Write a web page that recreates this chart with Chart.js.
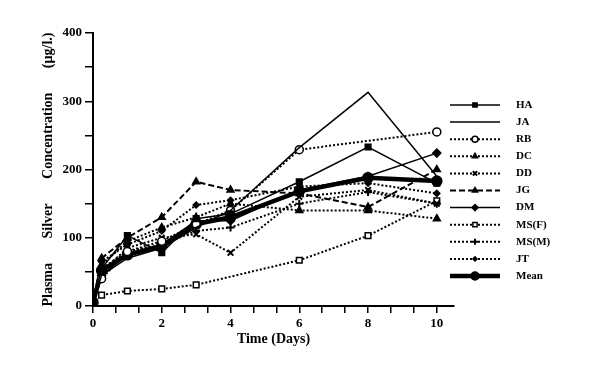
<!DOCTYPE html>
<html>
<head>
<meta charset="utf-8">
<script src="https://cdn.jsdelivr.net/npm/chart.js@4/dist/chart.umd.min.js"></script>
<style>
    html, body { margin: 0; padding: 0; background: #fff; }
    #wrap { width: 610px; height: 382px; }
</style>
</head>
<body>
<div id="wrap"><canvas id="chart" width="610" height="382"></canvas></div>
<script>
// Zeitpunkte (Tage) und Werte pro Patient
let days = [0, 0.25, 1, 2, 3, 4, 6, 8, 10];

let valuesHA = [5, 55, 103, 78, 128, 135, 182, 233, 180];
let valuesJA = [5, 45, 70, 85, 115, 140, 232, 313, 190];
let valuesRB = [5, 40, 80, 95, 120, 140, 229, null, 255];
let valuesDC = [5, 60, 95, 115, 130, 150, 140, 140, 128];
let valuesDD = [5, 50, 85, 100, 105, 78, 160, 170, 150];
let valuesJG = [5, 70, 100, 130, 182, 170, 165, 145, 200];
let valuesDM = [5, 45, 75, 90, 125, 125, 170, 190, 224];
let valuesMSF = [5, 16, 22, 25, 31, null, 67, 103, 154];
let valuesMSM = [5, 55, 80, 90, 110, 115, 150, 167, 150];
let valuesJT = [5, 65, 90, 110, 148, 155, 175, 180, 165];
let valuesMean = [5, 52, 75, 88, 120, 130, 168, 188, 183];

let xLabels = [0, 2, 4, 6, 8, 10];
let yLabels = [0, 100, 200, 300, 400];

let serif = "'Liberation Serif', 'DejaVu Serif', serif";

function points(values) {
    let list = [];
    for (let i = 0; i < days.length; i++) {
        list.push({x: days[i], y: values[i]});
    }
    return list;
}

function createDataset(label, values, style) {
    /*
        Baut ein Dataset mit Linienstil und Marker.
     */
    return {
        label: label,
        data: points(values),
        borderColor: '#000',
        borderWidth: style.width || 1.5,
        borderDash: style.dash || [],
        pointStyle: style.point || false,
        pointRadius: style.radius || 0,
        pointBackgroundColor: style.fill || '#000',
        pointBorderColor: '#000',
        pointBorderWidth: style.pointWidth || 1.5,
        spanGaps: true,
        tension: 0
    };
}

let dot = [2, 2];
let dash = [6, 3];

let datasets = [
    createDataset('HA', valuesHA, {point: 'rect', radius: 4}),
    createDataset('JA', valuesJA, {}),
    createDataset('RB', valuesRB, {dash: dot, point: 'circle', radius: 4, fill: '#fff', width: 2}),
    createDataset('DC', valuesDC, {dash: dot, point: 'triangle', radius: 4, width: 2}),
    createDataset('DD', valuesDD, {dash: dot, point: 'crossRot', radius: 4, width: 2, pointWidth: 2}),
    createDataset('JG', valuesJG, {dash: dash, point: 'triangle', radius: 4, width: 2}),
    createDataset('DM', valuesDM, {point: 'rectRot', radius: 4}),
    createDataset('MS(F)', valuesMSF, {dash: dot, point: 'rect', radius: 4, fill: '#fff', width: 2}),
    createDataset('MS(M)', valuesMSM, {dash: dot, point: 'cross', radius: 4, width: 2, pointWidth: 2}),
    createDataset('JT', valuesJT, {dash: dot, point: 'rectRot', radius: 3, width: 2}),
    createDataset('Mean', valuesMean, {point: 'circle', radius: 5, width: 4.5})
];

// Legende rechts neben dem Diagramm, Linie mit Marker in der Mitte
let sideLegend = {
    id: 'sideLegend',
    afterDraw: function (chart) {
        let ctx = chart.ctx;
        let x0 = 450, x1 = 500, textX = 516, y0 = 105, step = 17.1;
        ctx.save();
        for (let i = 0; i < chart.data.datasets.length; i++) {
            let ds = chart.data.datasets[i];
            let y = y0 + i * step;
            ctx.strokeStyle = '#000';
            ctx.lineWidth = ds.borderWidth;
            ctx.setLineDash(ds.borderDash);
            ctx.beginPath();
            ctx.moveTo(x0, y);
            ctx.lineTo(x1, y);
            ctx.stroke();
            ctx.setLineDash([]);
            if (ds.pointStyle) {
                ctx.fillStyle = ds.pointBackgroundColor;
                ctx.lineWidth = ds.pointBorderWidth;
                Chart.helpers.drawPoint(ctx, {
                    pointStyle: ds.pointStyle,
                    rotation: 0,
                    radius: ds.pointRadius - 1,
                    borderWidth: ds.pointBorderWidth
                }, (x0 + x1) / 2, y);
            }
            ctx.fillStyle = '#000';
            ctx.font = 'bold 11px ' + serif;
            ctx.textBaseline = 'middle';
            ctx.fillText(ds.label, textX, y);
        }
        ctx.restore();
    }
};

new Chart(document.getElementById('chart').getContext('2d'), {
    type: 'line',
    data: {datasets: datasets},
    plugins: [sideLegend],
    options: {
        responsive: false,
        animation: false,
        layout: {padding: {left: 36, top: 33, right: 156, bottom: 28}},
        plugins: {legend: {display: false}, tooltip: {enabled: false}},
        scales: {
            x: {
                type: 'linear',
                min: 0,
                max: 10.5,
                afterFit: function (scale) { scale.height = 48; },
                afterBuildTicks: function (scale) {
                    let ticks = [];
                    for (let i = 0; i <= 15; i++) ticks.push({value: i * 2 / 3});
                    scale.ticks = ticks;
                },
                ticks: {
                    autoSkip: false,
                    maxRotation: 0,
                    padding: 3,
                    color: '#000',
                    font: {family: serif, size: 13, weight: 'bold'},
                    callback: function (value) {
                        let r = Math.round(value);
                        if (Math.abs(value - r) < 1e-6 && xLabels.indexOf(r) >= 0) return String(r);
                        return '';
                    }
                },
                grid: {drawOnChartArea: false, drawTicks: true, tickLength: 7, color: '#000', lineWidth: 1.5},
                border: {display: true, color: '#000', width: 2},
                title: {
                    display: true,
                    text: 'Time (Days)',
                    color: '#000',
                    padding: {top: 0, bottom: 6},
                    font: {family: serif, size: 14, weight: 'bold'}
                }
            },
            y: {
                min: 0,
                max: 400,
                afterFit: function (scale) { scale.width = 57; },
                ticks: {
                    stepSize: 50,
                    padding: 3,
                    color: '#000',
                    font: {family: serif, size: 13, weight: 'bold'},
                    callback: function (value) {
                        return yLabels.indexOf(value) >= 0 ? String(value) : '';
                    }
                },
                grid: {drawOnChartArea: false, drawTicks: true, tickLength: 8, color: '#000', lineWidth: 1.5},
                border: {display: true, color: '#000', width: 2},
                title: {
                    display: true,
                    text: 'Plasma       Silver       Concentration       (\u00b5g/l.)',
                    color: '#000',
                    font: {family: serif, size: 14, weight: 'bold'}
                }
            }
        }
    }
});
</script>
</body>
</html>
